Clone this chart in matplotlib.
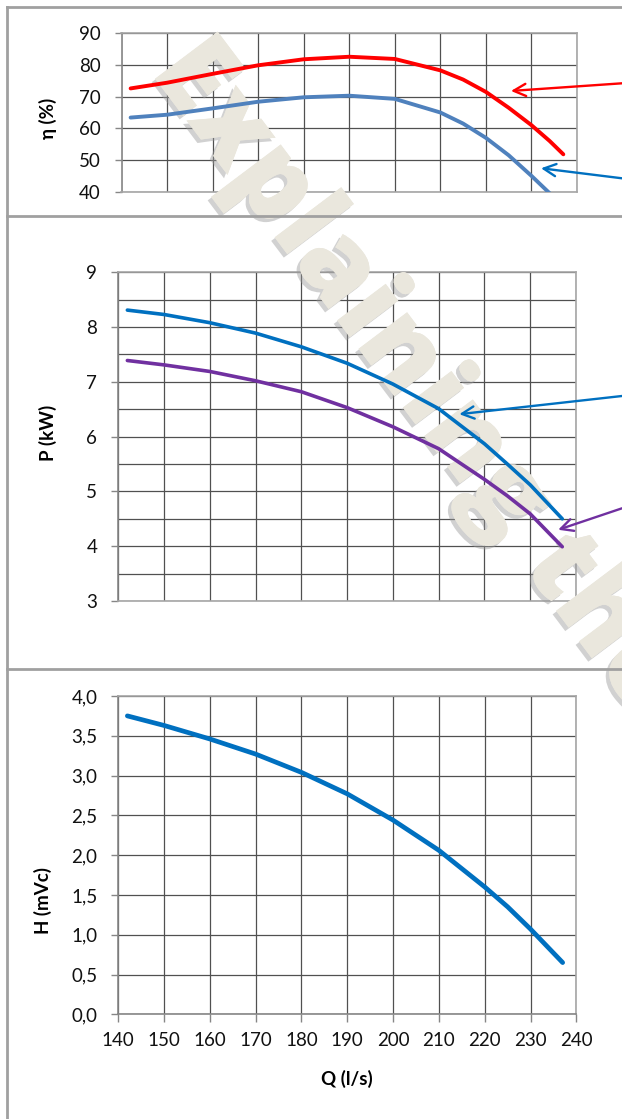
import numpy as np
import matplotlib
matplotlib.use("Agg")
import matplotlib.pyplot as plt
import matplotlib.patheffects as pe
from matplotlib.lines import Line2D

plt.rcParams['font.family'] = ['Lato', 'DejaVu Sans']

# flow (l/s) and readings
q_eta = [142, 150, 160, 170, 180, 190, 200, 210, 215, 220, 225, 230, 234, 237]
eta_red = [72.6, 74.4, 77.2, 79.9, 81.8, 82.6, 81.9, 78.3, 75.4, 71.5, 66.5, 61.0, 56.0, 51.8]
eta_blue = [63.4, 64.3, 66.3, 68.4, 69.8, 70.3, 69.3, 65.0, 61.5, 57.0, 51.5, 45.0, 39.5, 35.0]

q_p = [142, 150, 160, 170, 180, 190, 200, 210, 220, 225, 230, 237]
p_blue = [8.31, 8.23, 8.08, 7.89, 7.64, 7.34, 6.96, 6.51, 5.87, 5.50, 5.12, 4.50]
p_purple = [7.39, 7.31, 7.19, 7.02, 6.82, 6.53, 6.18, 5.78, 5.22, 4.92, 4.59, 3.99]

q_h = [142, 150, 160, 170, 180, 190, 200, 210, 220, 225, 230, 237]
h_vals = [3.75, 3.63, 3.46, 3.27, 3.04, 2.77, 2.44, 2.06, 1.60, 1.35, 1.07, 0.65]

q_ticks = [140, 150, 160, 170, 180, 190, 200, 210, 220, 230, 240]
eta_ticks = [40, 50, 60, 70, 80, 90]
p_ticks = [3, 4, 5, 6, 7, 8, 9]
h_ticks = [0.0, 0.5, 1.0, 1.5, 2.0, 2.5, 3.0, 3.5, 4.0]
h_ticklabels = ['0,0', '0,5', '1,0', '1,5', '2,0', '2,5', '3,0', '3,5', '4,0']

W, H = 622, 1119
fig = plt.figure(figsize=(W / 100, H / 100), dpi=100)
fig.patch.set_facecolor('white')


def px_rect(x0, x1, y0, y1):
    # pixel box -> figure fraction [left, bottom, width, height]
    return [x0 / W, 1 - y1 / H, (x1 - x0) / W, (y1 - y0) / H]


def make_axes(rect, ylim, yticks, yminor=None):
    ax = fig.add_axes(rect)
    ax.set_xlim(140, 240)
    ax.set_ylim(*ylim)
    ax.set_xticks(q_ticks)
    ax.set_yticks(yticks)
    if yminor is not None:
        ax.set_yticks(yminor, minor=True)
    ax.grid(True, which='both', color='#505050', lw=0.9)
    ax.set_axisbelow(True)
    for s in ax.spines.values():
        s.set_color('#A6A6A6')
        s.set_linewidth(1.2)
    ax.spines['left'].set_color('#868686')
    ax.tick_params(axis='y', which='major', length=5, width=1, color='#868686',
                   pad=10, labelsize=13.5, labelcolor='#111111')
    ax.tick_params(axis='y', which='minor', length=0)
    ax.tick_params(axis='x', length=0, labelbottom=False)
    ov = fig.add_axes(rect, sharex=ax, sharey=ax)
    ov.set_zorder(2)
    ov.patch.set_visible(False)
    ov.axis('off')
    return ax, ov


# top: efficiency
ax1, ov1 = make_axes(px_rect(121.5, 577, 33.3, 191.7), (40, 90), eta_ticks)
ov1.plot(q_eta, eta_red, color='#FF0000', lw=2.8, solid_capstyle='round', solid_joinstyle='round')
ov1.plot(q_eta, eta_blue, color='#4F81BD', lw=2.8, solid_capstyle='round', solid_joinstyle='round')

# middle: power
ax2, ov2 = make_axes(px_rect(118.2, 576, 272.3, 601), (3, 9), p_ticks,
                     yminor=np.arange(3.5, 9, 1.0))
ov2.plot(q_p, p_blue, color='#0070C0', lw=2.6, solid_capstyle='round', solid_joinstyle='round')
ov2.plot(q_p, p_purple, color='#7030A0', lw=2.6, solid_capstyle='round', solid_joinstyle='round')

# bottom: head
ax3, ov3 = make_axes(px_rect(118.2, 576.4, 696, 1014.3), (0, 4), h_ticks)
ax3.set_yticklabels(h_ticklabels)
ax3.spines['bottom'].set_color('#868686')
ax3.tick_params(axis='x', length=6, width=1, color='#868686', labelbottom=True,
                pad=7, labelsize=13.5, labelcolor='#111111')
ov3.plot(q_h, h_vals, color='#0070C0', lw=3.4, solid_capstyle='round', solid_joinstyle='round')

# axis titles
fig.text(47.6 / W, 1 - 118 / H, 'η (%)', rotation=90, ha='center', va='center',
         fontsize=13.5, fontweight='bold')
fig.text(47.6 / W, 1 - 433 / H, 'P (kW)', rotation=90, ha='center', va='center',
         fontsize=13.5, fontweight='bold')
fig.text(43 / W, 1 - 900 / H, 'H (mVc)', rotation=90, ha='center', va='center',
         fontsize=13.5, fontweight='bold')
fig.text(347 / W, 1 - 1079 / H, 'Q (l/s)', ha='center', va='center',
         fontsize=13.5, fontweight='bold')

# panel borders
for y in [7, 216, 669]:
    fig.add_artist(Line2D([7 / W, 1], [1 - y / H, 1 - y / H], color='#A0A0A0', lw=2))
fig.add_artist(Line2D([7 / W, 7 / W], [1 - 7 / H, 0], color='#A0A0A0', lw=2))

# watermark
fig.text(150 / W, 1 - 72 / H, 'Explaining the', rotation=-53, rotation_mode='anchor',
         ha='left', va='baseline', fontsize=79, fontweight='heavy', color='#EAE7DD',
         family=['Open Sans', 'DejaVu Sans'], zorder=1,
         path_effects=[pe.withSimplePatchShadow(offset=(-2.5, -2.5), shadow_rgbFace='#9a9a9a',
                                                alpha=0.45), pe.Normal()])

# pointer arrows
arrows = [
    (ov1, (225.5, 71.8), 83.3, '#FF0000'),
    (ov1, (232.1, 47.4), 178.3, '#0070C0'),
    (ov2, (214.5, 6.41), 396, '#0070C0'),
    (ov2, (236.1, 4.30), 508.3, '#7030A0'),
]
for ax, xy, ytail, col in arrows:
    ann = ax.annotate('', xy=xy, xycoords='data', xytext=(1.0, 1 - ytail / H),
                      textcoords='figure fraction', annotation_clip=False,
                      arrowprops=dict(arrowstyle='->', color=col, lw=1.7,
                                      mutation_scale=22, shrinkA=0, shrinkB=0))
    ann.set_zorder(5)

fig.savefig('out.png', dpi=100)
